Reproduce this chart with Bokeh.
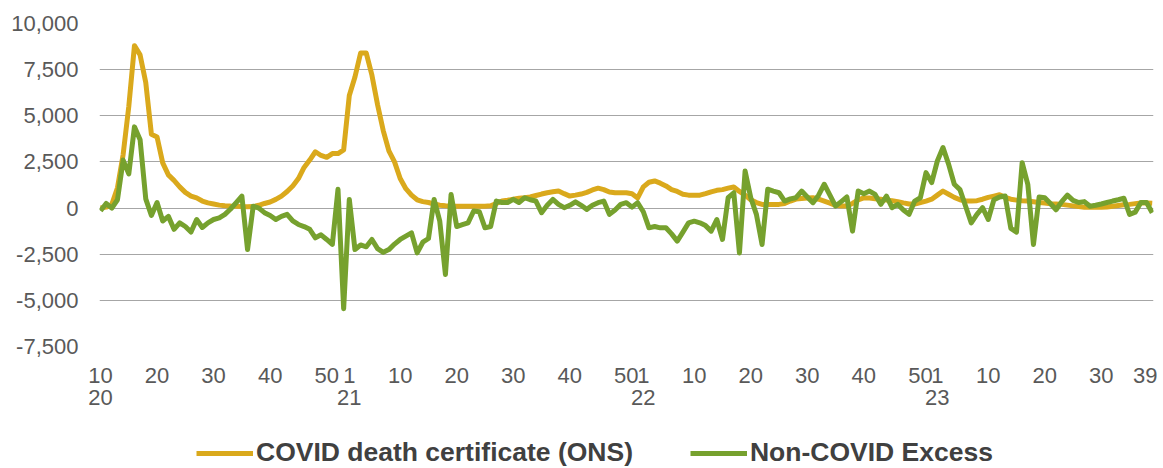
from bokeh.plotting import figure
from bokeh.layouts import column
from bokeh.models import (FixedTicker, LinearAxis, Legend, LegendItem, Range1d,
                          NumeralTickFormatter)
from bokeh.embed import file_html
from bokeh.resources import INLINE

# ISO week categories: 2020 w10 .. 2023 w39
year_spans = [(2020, 10, 53), (2021, 1, 52), (2022, 1, 52), (2023, 1, 39)]
year_labels = ["20", "21", "22", "23"]

covid_ons = [
    0, 50, 200, 1100, 2900, 5500, 8800, 8300, 6800, 4000,
    3850, 2450, 1800, 1500, 1150, 850, 650, 550, 380, 280,
    220, 160, 130, 110, 100, 80, 70, 80, 150, 250,
    330, 470, 650, 900, 1200, 1600, 2200, 2600, 3050, 2850,
    2750, 2950, 2950, 3150, 6100, 7100, 8400, 8400, 7200, 5600,
    4200, 3100, 2500, 1600, 1050, 700, 450, 350, 300, 220,
    150, 120, 100, 100, 100, 100, 100, 100, 100, 120,
    250, 380, 420, 480, 530, 560, 600, 680, 760, 830,
    880, 920, 780, 650, 700, 760, 850, 980, 1080, 1000,
    870, 830, 830, 830, 780, 550, 1150, 1400, 1470, 1350,
    1200, 1000, 900, 750, 700, 690, 700, 780, 880, 960,
    1000, 1080, 1140, 900, 700, 450, 300, 200, 200, 200,
    200, 250, 380, 490, 520, 550, 560, 480, 380, 270,
    150, 110, 110, 250, 450, 550, 540, 510, 480, 430,
    400, 350, 280, 220, 220, 300, 380, 480, 700, 920,
    750, 580, 450, 380, 380, 400, 480, 580, 650, 720,
    580, 480, 430, 400, 380, 340, 300, 270, 240, 220,
    200, 160, 120, 80, 50, 50, 50, 50, 60, 100,
    140, 180, 200, 240, 280, 280, 260,
]

non_covid_excess = [
    -150, 250, 0, 450, 2600, 1850, 4400, 3700, 500, -400,
    300, -700, -450, -1150, -800, -1000, -1300, -620, -1050, -800,
    -620, -530, -340, -50, 300, 650, -2250, 100, 0, -250,
    -400, -620, -450, -340, -700, -890, -1000, -1150, -1610, -1450,
    -1700, -1970, 1020, -5450, 470, -2250, -2000, -2100, -1700, -2200,
    -2400, -2250, -1950, -1700, -1520, -1340, -2430, -1850, -1650, 470,
    -710, -3600, 740, -1000, -900, -800, -160, -200, -1070, -1000,
    380, 300, 300, 470, 300, 560, 450, 380, -250, 150,
    470, 200, 20, 150, 340, 150, -70, 150, 290, 380,
    -340, -100, 200, 290, 50, 290, -200, -1070, -1000, -1070,
    -1070, -1400, -1790, -1300, -800, -710, -800, -950, -1250, -620,
    -1700, 560, 830, -2430, 2010, 560, -340, -1970, 1020, 920,
    830, 380, 500, 560, 920, 600, 290, 700, 1290, 700,
    110, 350, 600, -1250, 920, 780, 920, 740, 200, 650,
    20, 200, -100, -340, 380, 560, 1920, 1380, 2550, 3280,
    2370, 1290, 1000, 100, -800, -340, 20, -620, 450, 600,
    650, -1100, -1300, 2460, 1290, -1970, 600, 560, 250, -90,
    350, 700, 420, 300, 350, 100, 150, 220, 300, 380,
    450, 530, -340, -220, 300, 300, -250,
]

y_ticks = [-7500, -5000, -2500, 0, 2500, 5000, 7500, 10000]

# build category positions
weeks = []
year_start_idx = []
for (yr, w0, w1) in year_spans:
    year_start_idx.append(len(weeks))
    for w in range(w0, w1 + 1):
        weeks.append(w)
xs = list(range(len(weeks)))

week_ticks = [i for i, w in enumerate(weeks) if w % 10 == 0 or w == 1]
week_ticks.append(len(weeks) - 1)
week_overrides = {i: str(weeks[i]) for i in week_ticks}

FONT = "Liberation Sans"
TXT = "#595959"
GOLD = "#DAA91C"
GREEN = "#76A12E"

p = figure(width=1157, height=421,
           x_range=Range1d(-0.18, len(weeks) - 1 + 0.23),
           y_range=Range1d(-7500, 10000),
           output_backend="svg", toolbar_location=None,
           min_border_left=99, min_border_right=4, min_border_top=23,
           min_border_bottom=75)
p.outline_line_color = None
p.background_fill_color = "white"
p.border_fill_color = "white"

r1 = p.line(xs, covid_ons, line_color=GOLD, line_width=5, line_join="round")
r2 = p.line(xs, non_covid_excess, line_color=GREEN, line_width=5, line_join="round")

p.xgrid.visible = False
p.ygrid.ticker = FixedTicker(ticks=y_ticks)
p.ygrid.grid_line_color = "#A6A6A6"
p.ygrid.grid_line_width = 1

ya = p.yaxis[0]
ya.ticker = FixedTicker(ticks=y_ticks)
ya.formatter = NumeralTickFormatter(format="0,0")
ya.axis_line_color = None
ya.major_tick_line_color = None
ya.minor_tick_line_color = None
ya.major_tick_out = 0
ya.major_label_standoff = 21
ya.major_label_text_font = FONT
ya.major_label_text_font_size = "22px"
ya.major_label_text_color = TXT

xa = p.xaxis[0]
xa.ticker = FixedTicker(ticks=week_ticks)
xa.major_label_overrides = week_overrides
xa.axis_line_color = None
xa.major_tick_line_color = None
xa.minor_tick_line_color = None
xa.major_tick_out = 0
xa.major_tick_in = 0
xa.major_label_standoff = 21
xa.major_label_text_font = FONT
xa.major_label_text_font_size = "22px"
xa.major_label_text_color = TXT

ya2 = LinearAxis(ticker=FixedTicker(ticks=year_start_idx),
                 major_label_overrides={i: l for i, l in zip(year_start_idx, year_labels)})
ya2.axis_line_color = None
ya2.major_tick_line_color = None
ya2.minor_tick_line_color = None
ya2.major_tick_out = 0
ya2.major_tick_in = 0
ya2.major_label_standoff = 4
ya2.major_label_text_font = FONT
ya2.major_label_text_font_size = "22px"
ya2.major_label_text_color = TXT
p.add_layout(ya2, "below")

# legend strip below the chart (proxy lines sit outside the visible range)
q = figure(width=1157, height=47, x_range=Range1d(0, 1), y_range=Range1d(0, 1),
           output_backend="svg", toolbar_location=None,
           x_axis_location=None, y_axis_location=None,
           min_border_left=99, min_border_right=4, min_border_top=0,
           min_border_bottom=0)
q.outline_line_color = None
q.grid.visible = False
q.background_fill_color = "white"
q.border_fill_color = "white"
l1 = q.line([5, 6], [5, 5], line_color=GOLD, line_width=5)
l2 = q.line([5, 6], [5, 5], line_color=GREEN, line_width=5)

legend = Legend(items=[LegendItem(label="COVID death certificate (ONS)", renderers=[l1]),
                       LegendItem(label="Non-COVID Excess", renderers=[l2])],
                orientation="horizontal", location=(97, 0))
legend.border_line_color = None
legend.background_fill_alpha = 0
legend.padding = 0
legend.margin = 0
legend.spacing = 57
legend.glyph_width = 57
legend.glyph_height = 24
legend.label_standoff = 3
legend.label_text_font = FONT
legend.label_text_font_style = "bold"
legend.label_text_font_size = "26.5px"
legend.label_text_color = "#404040"
q.add_layout(legend)

open("out.html", "w").write(file_html(column(p, q), INLINE))
